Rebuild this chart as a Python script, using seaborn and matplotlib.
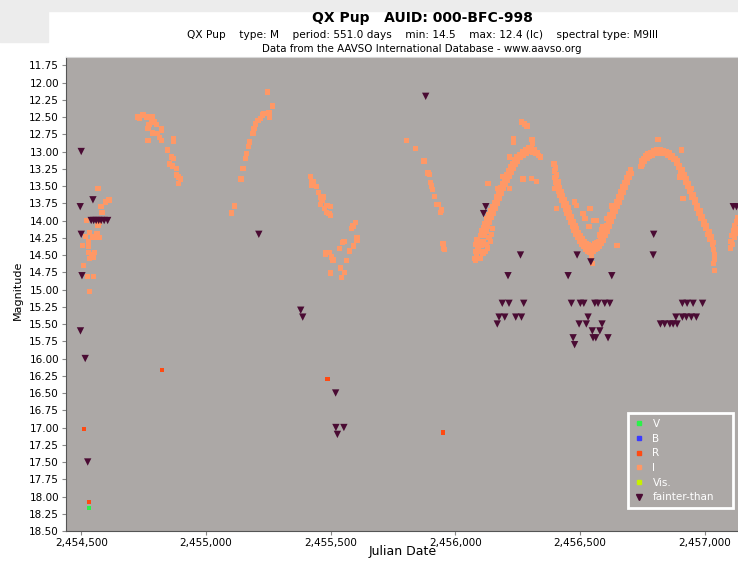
import numpy as np
import pandas as pd
import matplotlib
matplotlib.use("Agg")
import matplotlib.pyplot as plt
from matplotlib.lines import Line2D
from matplotlib.patches import Rectangle
from matplotlib.ticker import FuncFormatter, MultipleLocator
import seaborn as sns

# I band (JD, magnitude)
i_jd = [
    # first season cluster
    2454567, 2454611, 2454597, 2454580, 2454584, 2454522, 2454573, 2454567, 2454517, 2454533,
    2454547, 2454563, 2454571, 2454530, 2454506, 2454530, 2454528, 2454540, 2454553, 2454533,
    2454547, 2454510, 2454526, 2454549, 2454533,
    # second season
    2454727, 2454734, 2454747, 2454763, 2454785, 2454781, 2454794, 2454803, 2454771, 2454767,
    2454823, 2454823, 2454787, 2454807, 2454814, 2454767, 2454821, 2454870, 2454870, 2454845,
    2454861, 2454870, 2454854, 2454867, 2454881, 2454883, 2454891, 2454897, 2454891,
    2455102, 2455115, 2455140, 2455148, 2455158, 2455163, 2455171, 2455175, 2455188, 2455192,
    2455199, 2455208, 2455218, 2455226, 2455231, 2455255, 2455253, 2455266, 2455248,
    # third season
    2455420, 2455423, 2455432, 2455425, 2455443, 2455452, 2455460, 2455469, 2455465, 2455459,
    2455485, 2455500, 2455476, 2455483, 2455493, 2455499, 2455599, 2455590, 2455583, 2455606,
    2455606, 2455553, 2455547, 2455592, 2455536, 2455576, 2455480, 2455480, 2455496, 2455503,
    2455509, 2455563, 2455539, 2455556, 2455499, 2455543,
    2455804, 2455840, 2455874, 2455890, 2455897, 2455900, 2455904, 2455908, 2455917, 2455926,
    2455930, 2455941, 2455944, 2455950, 2455953, 2455957,
    # dense seasons
    2456078, 2456080, 2456082, 2456084, 2456086, 2456090, 2456092, 2456095, 2456098, 2456100,
    2456104, 2456106, 2456110, 2456112, 2456116, 2456118, 2456122, 2456126, 2456130, 2456134,
    2456138, 2456142, 2456146, 2456150, 2456154, 2456158, 2456162, 2456166, 2456170, 2456174,
    2456178, 2456182, 2456186, 2456190, 2456194, 2456198, 2456202, 2456206, 2456210, 2456214,
    2456218, 2456222, 2456226, 2456230, 2456234, 2456238, 2456242, 2456246, 2456250, 2456256,
    2456262, 2456268, 2456274, 2456280, 2456286, 2456292, 2456298, 2456304, 2456310, 2456316,
    2456322, 2456328, 2456334, 2456340,
    2456081, 2456110, 2456120, 2456130, 2456140, 2456145, 2456150, 2456125, 2456135, 2456100,
    2456396, 2456398, 2456400, 2456402, 2456404, 2456406, 2456408, 2456412, 2456414, 2456418,
    2456420, 2456424, 2456427, 2456430, 2456434, 2456437, 2456441, 2456444, 2456448, 2456451,
    2456455, 2456458, 2456462, 2456465, 2456469, 2456472, 2456476, 2456479, 2456483, 2456486,
    2456490, 2456494, 2456498, 2456502, 2456506, 2456510, 2456514, 2456518, 2456522, 2456526,
    2456530, 2456534, 2456538, 2456542, 2456546, 2456550, 2456554, 2456558, 2456562, 2456566,
    2456570, 2456574, 2456578, 2456582, 2456586, 2456590, 2456594, 2456598, 2456602, 2456606,
    2456610, 2456614, 2456618, 2456622, 2456626, 2456630, 2456634, 2456638, 2456642, 2456646,
    2456650, 2456654, 2456658, 2456662, 2456666, 2456670, 2456674, 2456678, 2456682, 2456686,
    2456690, 2456694, 2456698, 2456702, 2456706,
    2456744, 2456746, 2456750, 2456754, 2456758, 2456762, 2456768, 2456772, 2456778, 2456784,
    2456790, 2456796, 2456802, 2456808, 2456814, 2456820, 2456826, 2456832, 2456838, 2456844,
    2456850, 2456856, 2456862, 2456868, 2456874, 2456880, 2456886, 2456890, 2456895, 2456899,
    2456904, 2456908, 2456913, 2456917, 2456922, 2456926, 2456931, 2456935, 2456940, 2456944,
    2456949, 2456953, 2456958, 2456962, 2456967, 2456971, 2456976, 2456980, 2456985, 2456989,
    2456994, 2456998, 2457003, 2457007, 2457012, 2457016, 2457021, 2457025, 2457030, 2457034,
    2457036, 2457038, 2457040, 2457034, 2457040,
    2457102, 2457105, 2457108, 2457110, 2457114, 2457118, 2457120, 2457124, 2457128, 2457130,
    2457132,
    # scattered
    2456131, 2456171, 2456191, 2456218, 2456234, 2456234, 2456265, 2456278, 2456287, 2456307,
    2456309, 2456271, 2456305, 2456325, 2456218, 2456405, 2456398, 2456478, 2456485, 2456512,
    2456519, 2456539, 2456555, 2456563, 2456536, 2456592, 2456588, 2456606, 2456619, 2456628,
    2456579, 2456599, 2456648, 2456545, 2456549, 2456813, 2456906, 2456913, 2456900,
]
i_mag = [
    13.54, 13.70, 13.73, 13.80, 13.88, 14.00, 14.02, 14.07, 14.23, 14.17,
    14.24, 14.19, 14.25, 14.31, 14.36, 14.38, 14.46, 14.49, 14.46, 14.55,
    14.53, 14.65, 14.81, 14.81, 15.03,
    12.50, 12.52, 12.47, 12.50, 12.50, 12.57, 12.57, 12.61, 12.61, 12.67,
    12.67, 12.69, 12.73, 12.74, 12.80, 12.84, 12.84, 12.81, 12.85, 12.98,
    13.08, 13.10, 13.18, 13.21, 13.25, 13.34, 13.37, 13.40, 13.46,
    13.89, 13.79, 13.40, 13.25, 13.10, 13.03, 12.93, 12.86, 12.74, 12.67,
    12.60, 12.55, 12.52, 12.47, 12.45, 12.50, 12.44, 12.34, 12.14,
    13.36, 13.43, 13.43, 13.49, 13.51, 13.59, 13.67, 13.66, 13.71, 13.77,
    13.78, 13.80, 13.83, 13.88, 13.90, 13.93, 14.03, 14.08, 14.12, 14.25,
    14.29, 14.30, 14.32, 14.37, 14.41, 14.44, 14.46, 14.49, 14.46, 14.53,
    14.57, 14.58, 14.69, 14.75, 14.76, 14.83,
    12.84, 12.96, 13.14, 13.31, 13.33, 13.45, 13.50, 13.55, 13.65, 13.77,
    13.77, 13.88, 13.85, 14.33, 14.41, 14.42,
    14.55, 14.45, 14.35, 14.50, 14.28, 14.42, 14.55, 14.32, 14.45, 14.22,
    14.36, 14.15, 14.30, 14.10, 14.22, 14.05, 14.15, 13.98, 14.08, 13.92,
    14.02, 13.86, 13.95, 13.80, 13.90, 13.74, 13.82, 13.66, 13.75, 13.58,
    13.68, 13.52, 13.60, 13.46, 13.54, 13.40, 13.48, 13.34, 13.42, 13.28,
    13.36, 13.22, 13.30, 13.17, 13.24, 13.12, 13.19, 13.08, 13.14, 13.04,
    13.09, 13.00, 13.05, 12.97, 13.02, 12.95, 13.00, 12.96, 13.01, 12.98,
    13.03, 13.01, 13.06, 13.08,
    14.58, 14.48, 14.45, 14.40, 14.30, 14.20, 14.12, 14.35, 14.25, 14.55,
    13.18, 13.28, 13.38, 13.24, 13.45, 13.34, 13.52, 13.44, 13.58, 13.52,
    13.64, 13.58, 13.70, 13.64, 13.78, 13.70, 13.84, 13.76, 13.90, 13.82,
    13.96, 13.88, 14.02, 13.95, 14.08, 14.02, 14.14, 14.07, 14.20, 14.12,
    14.25, 14.18, 14.30, 14.22, 14.34, 14.27, 14.38, 14.30, 14.42, 14.33,
    14.44, 14.35, 14.46, 14.37, 14.45, 14.36, 14.44, 14.34, 14.42, 14.32,
    14.40, 14.30, 14.37, 14.26, 14.33, 14.20, 14.28, 14.14, 14.22, 14.07,
    14.15, 14.00, 14.08, 13.93, 14.01, 13.86, 13.94, 13.79, 13.87, 13.72,
    13.80, 13.65, 13.73, 13.58, 13.66, 13.51, 13.59, 13.45, 13.52, 13.38,
    13.45, 13.32, 13.38, 13.27, 13.32,
    13.22, 13.14, 13.18, 13.10, 13.14, 13.06, 13.10, 13.03, 13.07, 13.01,
    13.05, 12.99, 13.03, 12.98, 13.02, 12.98, 13.02, 12.99, 13.03, 13.00,
    13.05, 13.02, 13.08, 13.06, 13.12, 13.10, 13.17, 13.14, 13.23, 13.20,
    13.30, 13.26, 13.37, 13.33, 13.44, 13.40, 13.51, 13.47, 13.58, 13.54,
    13.66, 13.62, 13.74, 13.70, 13.82, 13.78, 13.90, 13.86, 13.97, 13.94,
    14.05, 14.01, 14.12, 14.08, 14.20, 14.16, 14.27, 14.24, 14.34, 14.32,
    14.42, 14.50, 14.56, 14.62, 14.72,
    14.40, 14.30, 14.22, 14.35, 14.15, 14.25, 14.08, 14.18, 14.02, 14.12,
    13.96,
    13.46, 13.54, 13.36, 13.08, 12.81, 12.86, 12.57, 12.60, 12.63, 12.83,
    12.88, 13.40, 13.39, 13.43, 13.54, 13.83, 13.54, 13.73, 13.78, 13.90,
    13.97, 13.83, 14.00, 14.00, 14.09, 14.09, 14.14, 13.97, 13.92, 13.79,
    14.21, 14.21, 14.36, 14.53, 14.62, 12.83, 12.98, 13.68, 13.37,
]

# fainter-than limits
ft_jd = [
    2454500, 2454547, 2454496, 2454540, 2454550, 2454560, 2454570, 2454580, 2454592, 2454606,
    2454500, 2454503, 2454497, 2454516, 2454526, 2455212, 2455380, 2455388, 2455520, 2455521,
    2455553, 2455527, 2455881,
    2456122, 2456113, 2456261, 2456211, 2456188, 2456215, 2456274, 2456175, 2456198, 2456242,
    2456265, 2456168, 2456488, 2456543, 2456452, 2456627, 2456465, 2456501, 2456515, 2456559,
    2456572, 2456599, 2456619, 2456532, 2456496, 2456525, 2456588, 2456549, 2456579, 2456472,
    2456552, 2456563, 2456612, 2456478, 2456795, 2456793, 2456910, 2456929, 2456953, 2456991,
    2456884, 2456910, 2456926, 2456946, 2456966, 2456822, 2456839, 2456860, 2456873, 2456889,
    2457114, 2457127,
]
ft_mag = [
    13.00, 13.70, 13.80, 14.00, 14.00, 14.00, 14.00, 14.00, 14.00, 14.00,
    14.20, 14.80, 15.60, 16.00, 17.50, 14.20, 15.30, 15.40, 16.50, 17.00,
    17.00, 17.10, 12.20,
    13.80, 13.90, 14.50, 14.80, 15.20, 15.20, 15.20, 15.40, 15.40, 15.40,
    15.40, 15.50, 14.50, 14.60, 14.80, 14.80, 15.20, 15.20, 15.20, 15.20,
    15.20, 15.20, 15.20, 15.40, 15.50, 15.50, 15.50, 15.60, 15.60, 15.70,
    15.70, 15.70, 15.70, 15.80, 14.20, 14.50, 15.20, 15.20, 15.20, 15.20,
    15.40, 15.40, 15.40, 15.40, 15.40, 15.50, 15.50, 15.50, 15.50, 15.50,
    13.80, 13.80,
]

# R and V bands
r_jd = [2454510, 2454532, 2454823, 2455485, 2455490, 2455951]
r_mag = [17.02, 18.08, 16.17, 16.30, 16.30, 17.07]
v_jd = [2454532]
v_mag = [18.17]

band_colors = {"V": "#2bf04a", "B": "#3b3bff", "R": "#ff4a12", "I": "#ff9866",
               "Vis.": "#c8f000", "fainter-than": "#4a0b33"}

fig = plt.figure(figsize=(7.38, 5.61), dpi=100)
fig.patches.append(Rectangle((0, 1 - 11 / 561), 1, 11 / 561, transform=fig.transFigure,
                             color="#ececec", zorder=0))
fig.patches.append(Rectangle((0, 1 - 42 / 561), 48 / 738, 31 / 561, transform=fig.transFigure,
                             color="#ececec", zorder=0))
ax = fig.add_axes([66 / 738, 30 / 561, 672 / 738, 474 / 561])
ax.set_facecolor("#aca8a6")

df_i = pd.DataFrame({"jd": i_jd, "mag": i_mag})
df_ft = pd.DataFrame({"jd": ft_jd, "mag": ft_mag})
df_r = pd.DataFrame({"jd": r_jd, "mag": r_mag})
df_v = pd.DataFrame({"jd": v_jd, "mag": v_mag})

sns.scatterplot(data=df_i, x="jd", y="mag", marker="s", s=15, color=band_colors["I"],
                edgecolor="none", linewidth=0, ax=ax)
sns.scatterplot(data=df_r, x="jd", y="mag", marker="s", s=10, color=band_colors["R"],
                edgecolor="none", linewidth=0, ax=ax)
sns.scatterplot(data=df_v, x="jd", y="mag", marker="s", s=10, color=band_colors["V"],
                edgecolor="none", linewidth=0, ax=ax)
sns.scatterplot(data=df_ft, x="jd", y="mag", marker="v", s=28, color=band_colors["fainter-than"],
                edgecolor="none", linewidth=0, ax=ax)

ax.set_xlim(2454439, 2457133)
ax.set_ylim(18.5, 11.63)
ax.yaxis.set_major_locator(MultipleLocator(0.25))
ax.yaxis.set_major_formatter(FuncFormatter(lambda v, p: f"{v:.2f}"))
ax.xaxis.set_major_locator(MultipleLocator(500))
ax.xaxis.set_major_formatter(FuncFormatter(lambda v, p: f"{int(v):,}"))
ax.tick_params(labelsize=7.5, length=3, color="#888888", pad=2)
ax.set_xlabel("")
ax.set_ylabel("")
ax.spines["right"].set_visible(False)
ax.spines["top"].set_color("#d8d8d8")
ax.spines["left"].set_color("#555555")
ax.spines["bottom"].set_color("#555555")

fig.text(422 / 738, 1 - 18 / 561, "QX Pup   AUID: 000-BFC-998", ha="center", va="center",
         fontsize=10, fontweight="bold")
fig.text(423 / 738, 1 - 35 / 561,
         "QX Pup    type: M    period: 551.0 days    min: 14.5    max: 12.4 (lc)    spectral type: M9III",
         ha="center", va="center", fontsize=7.6)
fig.text(422 / 738, 1 - 49 / 561, "Data from the AAVSO International Database - www.aavso.org",
         ha="center", va="center", fontsize=7.4)
fig.text(18 / 738, 1 - 290 / 561, "Magnitude", rotation=90, ha="center", va="center", fontsize=8)
fig.text(403 / 738, 1 - 552 / 561, "Julian Date", ha="center", va="center", fontsize=9)

handles = []
for name in ["V", "B", "R", "I", "Vis."]:
    handles.append(Line2D([], [], marker="s", linestyle="", markersize=3,
                          color=band_colors[name], label=name))
handles.append(Line2D([], [], marker="v", linestyle="", markersize=5,
                      color=band_colors["fainter-than"], label="fainter-than"))
leg = ax.legend(handles=handles, loc="lower left",
                bbox_to_anchor=((628 - 66) / 672, (531 - 508) / 474, 105 / 672, 95 / 474),
                mode="expand", fontsize=7.5, frameon=True, fancybox=False, labelspacing=0.45,
                handlelength=1.0, handletextpad=0.8, borderpad=0.55, borderaxespad=0)
leg.get_frame().set_facecolor("#aca8a6")
leg.get_frame().set_edgecolor("white")
leg.get_frame().set_linewidth(2)
leg.get_frame().set_alpha(1)
for t in leg.get_texts():
    t.set_color("white")

fig.savefig("out.png", dpi=100)
